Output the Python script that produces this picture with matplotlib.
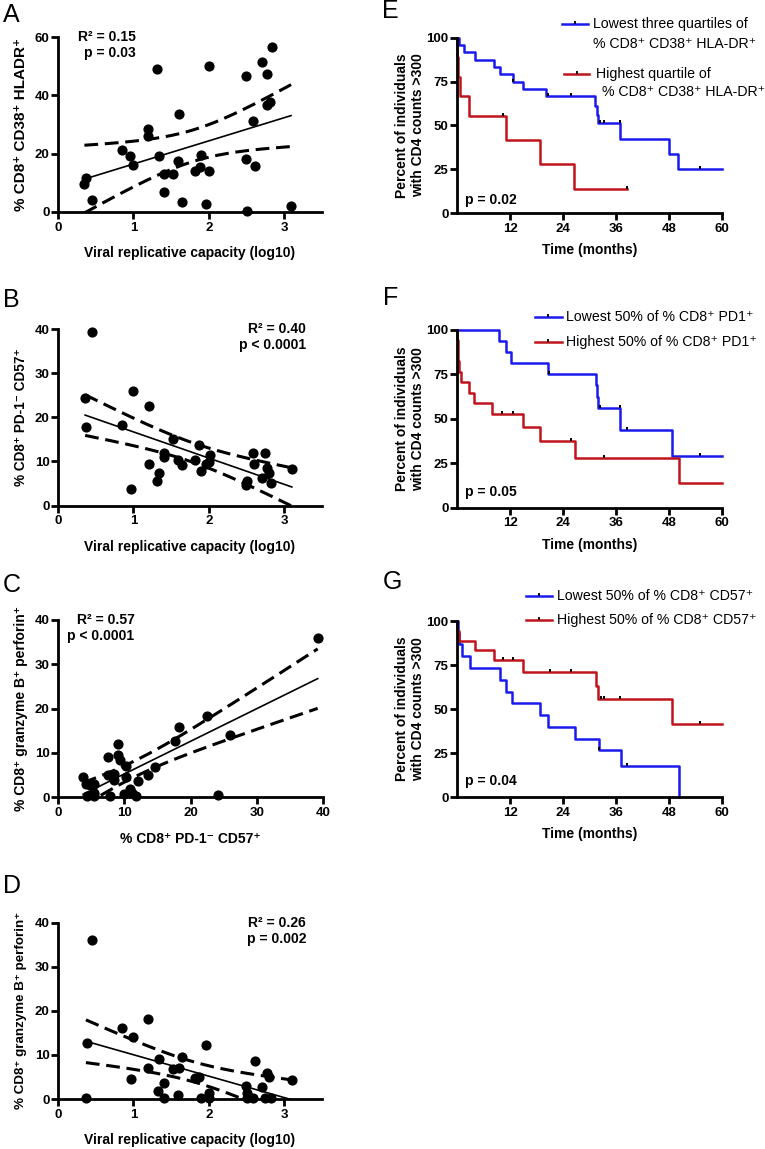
import numpy as np
import matplotlib
matplotlib.use("Agg")
import matplotlib.pyplot as plt
from matplotlib.lines import Line2D

plt.rcParams['font.family'] = ['Liberation Sans', 'DejaVu Sans']
plt.rcParams['font.weight'] = 'bold'
plt.rcParams['axes.labelweight'] = 'bold'

# ---- scatter data ----
A_x = [0.35, 0.37, 0.45, 0.85, 0.96, 1.00, 1.19, 1.19, 1.31, 1.34, 1.41, 1.41, 1.53, 1.59, 1.60, 1.64, 1.81,
       1.88, 1.89, 1.96, 2.00, 2.00, 2.49, 2.49, 2.51, 2.58, 2.61, 2.71, 2.77, 2.77, 2.81, 2.84, 3.09]
A_y = [9.6, 11.7, 4.0, 21.4, 19.1, 16.0, 28.5, 26.2, 49.1, 19.1, 13.1, 6.9, 13.1, 17.6, 33.6, 3.4, 14.2,
       15.3, 19.7, 2.9, 50.0, 14.0, 46.7, 18.2, 0.2, 31.3, 15.9, 51.3, 47.4, 36.7, 37.6, 56.6, 2.1]

B_x = [0.36, 0.37, 0.45, 0.85, 0.97, 1.00, 1.20, 1.20, 1.31, 1.34, 1.40, 1.41, 1.53, 1.59, 1.64, 1.81,
       1.87, 1.89, 1.96, 2.00, 2.01, 2.49, 2.50, 2.59, 2.60, 2.71, 2.75, 2.77, 2.80, 2.83, 3.10]
B_y = [24.3, 17.7, 39.3, 18.3, 3.8, 26.0, 22.5, 9.3, 5.5, 7.4, 12.0, 10.9, 15.0, 10.2, 9.2, 10.3,
       13.7, 7.9, 9.3, 9.9, 11.4, 4.6, 5.6, 11.8, 9.3, 6.3, 11.8, 8.6, 7.4, 5.1, 8.3]

C_x = [3.8, 4.2, 4.4, 4.8, 5.4, 5.4, 5.5, 7.5, 7.5, 7.8, 8.4, 8.5, 9.0, 9.1, 9.3, 9.9, 10.2, 10.3,
       10.9, 11.2, 11.7, 12.1, 13.6, 14.7, 17.6, 18.2, 22.5, 24.2, 25.9, 39.2]
C_y = [4.5, 3.0, 0.2, 2.6, 3.0, 0.2, 0.8, 9.0, 4.9, 0.2, 5.3, 3.9, 9.4, 12.0, 8.3, 0.6, 7.1, 4.5,
       1.9, 0.9, 0.2, 3.6, 5.0, 6.8, 12.6, 15.8, 18.2, 0.4, 14.1, 35.9]

D_x = [0.37, 0.38, 0.45, 0.85, 0.97, 1.00, 1.19, 1.19, 1.32, 1.34, 1.41, 1.41, 1.53, 1.59, 1.60, 1.64, 1.82,
       1.87, 1.89, 1.96, 2.00, 2.00, 2.49, 2.51, 2.51, 2.59, 2.61, 2.71, 2.75, 2.77, 2.80, 2.83, 3.10]
D_y = [0.3, 12.6, 36.1, 16.0, 4.5, 14.1, 18.1, 7.1, 1.8, 9.1, 3.7, 0.3, 6.7, 0.9, 7.1, 9.6, 4.8,
       5.1, 0.15, 12.2, 1.3, 0.15, 2.9, 1.3, 0.15, 0.15, 8.6, 2.8, 0.15, 5.8, 4.9, 0.15, 4.2]

# ---- Kaplan-Meier steps (time in months, percent) ----
E_low_t = [0, 0.5, 1.5, 4.1, 8.4, 9.8, 12.6, 14.9, 20.2, 31.2, 31.7, 32.0, 37.0, 48.1, 50.0, 60]
E_low_s = [100, 95.8, 91.7, 87.5, 83.3, 79.2, 75.0, 70.8, 66.7, 61.0, 56.0, 51.2, 42.0, 33.5, 25.3, 25.3]
E_low_c = [12.7, 20.7, 25.7, 32.3, 33.3, 36.8, 55.0]
E_high_t = [0, 0.1, 0.3, 0.6, 2.7, 11.1, 18.9, 26.5, 38.4]
E_high_s = [100, 88.9, 77.8, 66.7, 55.6, 41.7, 27.8, 13.9, 13.9]
E_high_c = [10.5, 38.4]

F_low_t = [0, 9.6, 11.1, 12.3, 20.6, 31.4, 31.7, 32.0, 37.0, 48.7, 60]
F_low_s = [100, 93.8, 87.5, 81.3, 75.0, 68.8, 62.5, 56.3, 43.8, 29.2, 29.2]
F_low_c = [20.8, 32.3, 36.9, 38.4, 55.0]
F_high_t = [0, 0.1, 0.2, 0.3, 0.5, 0.8, 2.7, 3.9, 8.0, 15.0, 18.8, 26.8, 50.2, 60]
F_high_s = [100, 94.1, 88.2, 82.4, 76.5, 70.6, 64.7, 58.8, 52.9, 45.3, 37.7, 28.0, 14.0, 14.0]
F_high_c = [10.3, 12.6, 25.7, 33.3]

G_low_t = [0, 0.2, 0.46, 1.2, 2.9, 9.7, 11.1, 12.5, 18.7, 20.6, 26.7, 32.1, 37.1, 50.3]
G_low_s = [100, 93.3, 86.7, 80.0, 73.3, 66.7, 60.0, 53.3, 46.7, 40.0, 33.3, 26.7, 17.8, 0]
G_low_c = [32.2, 38.4]
G_high_t = [0, 0.1, 0.4, 4.1, 8.3, 15.0, 31.4, 31.9, 48.6, 60]
G_high_s = [100, 94.4, 88.9, 83.3, 77.8, 71.3, 63.4, 55.5, 41.6, 41.6]
G_high_c = [10.5, 12.6, 21.0, 25.7, 32.7, 33.3, 36.8, 55.0]

BLUE = '#1a1aee'
RED = '#c0141c'
W, H = 765, 1149

fig = plt.figure(figsize=(W / 100, H / 100), dpi=100)


def add_ax(l, t, r, b):
    return fig.add_axes([l / W, 1 - b / H, (r - l) / W, (b - t) / H])


def prism(ax, xt, yt):
    ax.spines[['top', 'right']].set_visible(False)
    for s in ['left', 'bottom']:
        ax.spines[s].set_linewidth(2)
    ax.set_xticks(xt, labels=[str(v) for v in xt], fontweight='bold', fontsize=9.5)
    ax.set_yticks(yt, labels=[str(v) for v in yt], fontweight='bold', fontsize=9.5)
    ax.tick_params(width=2, length=5)
    ax.tick_params(axis='y', pad=1)
    ax.tick_params(axis='x', pad=2)


def scatter_panel(ax, x, y, xlim, ylim, xt, yt, xlabel, ylabel, ysize, r2, p, tx):
    x = np.asarray(x, float)
    y = np.asarray(y, float)
    b, a = np.polyfit(x, y, 1)
    n = len(x)
    s = np.sqrt(np.sum((y - a - b * x) ** 2) / (n - 2))
    xs = np.linspace(x.min(), x.max(), 200)
    fit = a + b * xs
    se = s * np.sqrt(1 / n + (xs - x.mean()) ** 2 / np.sum((x - x.mean()) ** 2))
    ax.plot(xs, fit, color='black', lw=1.2)
    ax.plot(xs, fit + 2.04 * se, color='black', lw=2.2, ls=(0, (4.5, 2.2)))
    ax.plot(xs, fit - 2.04 * se, color='black', lw=2.2, ls=(0, (4.5, 2.2)))
    ax.scatter(x, y, s=40, color='black', zorder=5, clip_on=False)
    ax.set_xlim(*xlim)
    ax.set_ylim(*ylim)
    prism(ax, xt, yt)
    ax.set_xlabel(xlabel, fontsize=10, va='center')
    ax.set_ylabel(ylabel, fontsize=ysize, va='center')
    ax.xaxis.set_label_coords(0.5, -0.235)
    ax.yaxis.set_label_coords(-0.14, 0.5)
    ax.text(tx, 1.0, r2, transform=ax.transAxes, ha='right', va='center', fontsize=10)
    ax.text(tx, 0.907, p, transform=ax.transAxes, ha='right', va='center', fontsize=10)


def km_panel(ax, curves, ptext, py, legend):
    for t, sv, cens, col in curves:
        ax.step(t, sv, where='post', color=col, lw=1.8, clip_on=False)
        cy = [sv[np.searchsorted(t, c, side='right') - 1] for c in cens]
        ax.plot(cens, cy, ls='none', marker=[(0, 0), (0, 1)], ms=5, mew=1.4,
                mec='black', clip_on=False, zorder=4)
    ax.set_xlim(0, 60)
    ax.set_ylim(0, 100)
    prism(ax, [12, 24, 36, 48, 60], [0, 25, 50, 75, 100])
    ax.set_xlabel('Time (months)', fontsize=10, va='center')
    ax.set_ylabel('Percent of individuals\nwith CD4 counts >300', fontsize=10, va='center')
    ax.xaxis.set_label_coords(0.5, -0.21)
    ax.yaxis.set_label_coords(-0.178, 0.5)
    ax.text(0.03, py, ptext, transform=ax.transAxes, ha='left', va='center', fontsize=10)
    for (x0, x1, y, col, texts) in legend:
        ax.add_line(Line2D([x0, x1], [y, y], color=col, lw=1.8, transform=ax.transAxes, clip_on=False))
        ax.plot([(x0 + x1) / 2], [y], transform=ax.transAxes, marker=[(0, 0), (0, 1)], ms=4,
                mew=1.3, mec='black', clip_on=False)
        for (tx, ty, s) in texts:
            ax.text(tx, ty, s, transform=ax.transAxes, ha='left', va='center', fontsize=10.2,
                    fontweight='normal')


axA = add_ax(58, 37, 322, 212)
axB = add_ax(58, 329, 322, 505.5)
axC = add_ax(58, 620, 323, 797)
axD = add_ax(58, 922.7, 322, 1099)
axE = add_ax(457, 37.7, 722, 213)
axF = add_ax(457, 330, 722, 507.5)
axG = add_ax(457, 621, 722, 797.3)

vrc = 'Viral replicative capacity (log10)'
gzb = '% CD8⁺ granzyme B⁺ perforin⁺'
pd1 = '% CD8⁺ PD-1⁻ CD57⁺'
scatter_panel(axA, A_x, A_y, (0, 3.5), (0, 60), [0, 1, 2, 3], [0, 20, 40, 60], vrc,
              '% CD8⁺ CD38⁺ HLADR⁺', 11.0, 'R² = 0.15', 'p = 0.03', 0.295)
scatter_panel(axB, B_x, B_y, (0, 3.5), (0, 40), [0, 1, 2, 3], [0, 10, 20, 30, 40], vrc,
              pd1, 9.8, 'R² = 0.40', 'p < 0.0001', 0.939)
scatter_panel(axC, C_x, C_y, (0, 40), (0, 40), [0, 10, 20, 30, 40], [0, 10, 20, 30, 40],
              pd1, gzb, 10.0, 'R² = 0.57', 'p < 0.0001', 0.289)
scatter_panel(axD, D_x, D_y, (0, 3.5), (0, 40), [0, 1, 2, 3], [0, 10, 20, 30, 40], vrc,
              gzb, 9.6, 'R² = 0.26', 'p = 0.002', 0.94)

cd38 = '% CD8⁺ CD38⁺ HLA-DR⁺'
km_panel(axE, [(E_low_t, E_low_s, E_low_c, BLUE), (E_high_t, E_high_s, E_high_c, RED)], 'p = 0.02', 0.074,
         [(0.396, 0.494, 1.078, BLUE, [(0.513, 1.078, 'Lowest three quartiles of'), (0.513, 0.962, cd38)]),
          (0.404, 0.498, 0.793, RED, [(0.525, 0.793, 'Highest quartile of'), (0.547, 0.693, cd38)])])
km_panel(axF, [(F_low_t, F_low_s, F_low_c, BLUE), (F_high_t, F_high_s, F_high_c, RED)], 'p = 0.05', 0.086,
         [(0.294, 0.396, 1.072, BLUE, [(0.411, 1.072, 'Lowest 50% of % CD8⁺ PD1⁺')]),
          (0.294, 0.396, 0.934, RED, [(0.411, 0.934, 'Highest 50% of % CD8⁺ PD1⁺')])])
km_panel(axG, [(G_low_t, G_low_s, G_low_c, BLUE), (G_high_t, G_high_s, G_high_c, RED)], 'p = 0.04', 0.092,
         [(0.259, 0.360, 1.142, BLUE, [(0.376, 1.142, 'Lowest 50% of % CD8⁺ CD57⁺')]),
          (0.259, 0.360, 1.004, RED, [(0.376, 1.004, 'Highest 50% of % CD8⁺ CD57⁺')])])

for letter, x, y in [('A', 3, 22), ('B', 3, 307), ('C', 3, 592), ('D', 3, 893),
                     ('E', 382, 18), ('F', 383, 305), ('G', 383, 589)]:
    fig.text(x / W, 1 - y / H, letter, fontsize=18, fontweight='normal', va='baseline', ha='left')

fig.savefig('out.png', dpi=100)
